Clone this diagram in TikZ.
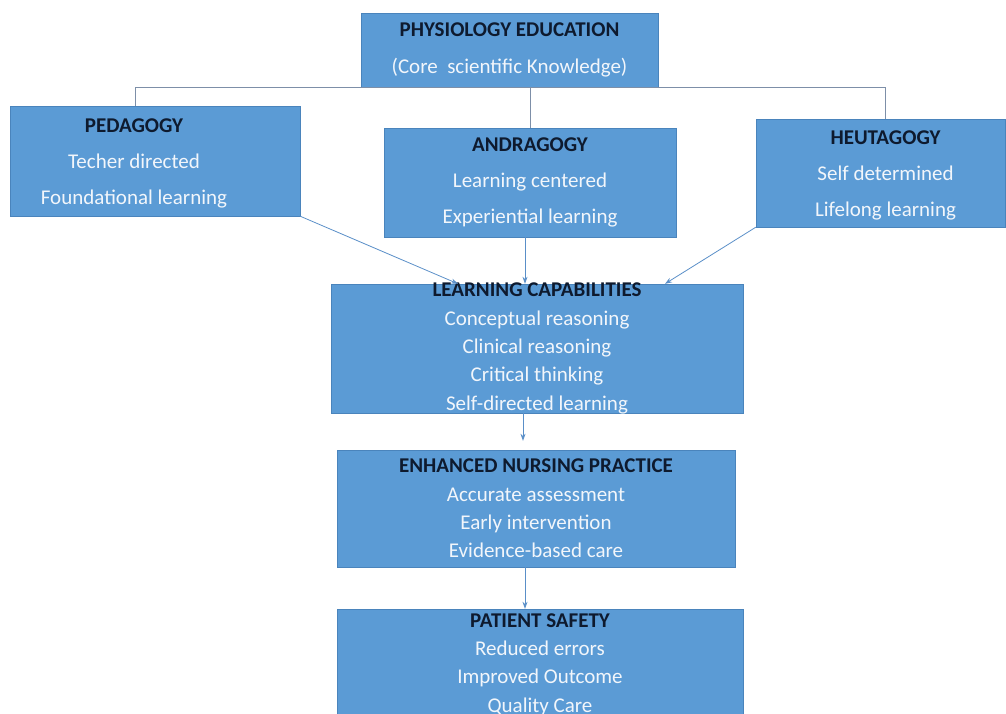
\documentclass[tikz,border=0pt]{standalone}
\usepackage{fontspec}
\setmainfont{Carlito}
\usetikzlibrary{arrows.meta}
\definecolor{boxblue}{HTML}{5B9BD5}
\definecolor{boxedge}{HTML}{4A84BC}
\definecolor{headtxt}{HTML}{0E1A2E}
\definecolor{bodytxt}{HTML}{F2F6FB}
\definecolor{treeline}{HTML}{7D8FA8}
\definecolor{arrowblue}{HTML}{5A8FC8}
\newcommand{\hd}[1]{{\bfseries\color{headtxt}#1}}
% text block moved sideways inside its box
\newcommand{\shifted}[2]{\hspace*{#1}\begin{tabular}{@{}c@{}}#2\end{tabular}}
\tikzset{
  blk/.style={draw=boxedge, fill=boxblue, inner sep=0pt, align=center, text=bodytxt, font=\fontsize{21}{36}\selectfont},
  blklow/.style={blk, font=\fontsize{21}{28.4}\selectfont},
  flow/.style={draw=arrowblue, line width=0.8pt, -{Stealth[length=7pt,width=5pt]}},
  tree/.style={draw=treeline, line width=0.8pt}
}
\begin{document}
\begin{tikzpicture}[x=1pt,y=-1pt]
\useasboundingbox (0,0) rectangle (1006,713);
\clip (0,0) rectangle (1006,713);

\node[blk, minimum width=297pt, minimum height=74pt, font=\fontsize{21}{37}\selectfont] (phys) at (509.5,50) {\hd{PHYSIOLOGY EDUCATION}\\(Core\ \ scientific Knowledge)};
\node[blk, minimum width=290pt, minimum height=110pt] (peda) at (155,161) {\shifted{-42pt}{\hd{PEDAGOGY}\\Techer directed\\Foundational learning}};
\node[blk, minimum width=292pt, minimum height=109pt] (andra) at (530,182.5) {\hd{ANDRAGOGY}\\Learning centered\\Experiential learning};
\node[blk, minimum width=249pt, minimum height=102pt] (heuta) at (880.5,173) {\shifted{10pt}{\hd{HEUTAGOGY}\\Self determined\\Lifelong learning}};
\node[blklow] (learn) at (537,348.5) {\parbox[c][129pt][c]{412pt}{\centering \hd{LEARNING CAPABILITIES}\\Conceptual reasoning\\Clinical reasoning\\Critical thinking\\Self-directed learning}};
\node[blklow, minimum width=398pt, minimum height=117pt] (nurse) at (536,508.5) {\hd{ENHANCED NURSING PRACTICE}\\Accurate assessment\\Early intervention\\Evidence-based care};
\node[blklow, minimum width=406pt, minimum height=111pt] (safety) at (540,664.5) {\hd{PATIENT SAFETY}\\Reduced errors\\Improved Outcome\\Quality Care};

% tree under the top box
\path[tree] ([xshift=-20pt]peda.north) |- ([xshift=5pt]heuta.north |- phys.south) -- ([xshift=5pt]heuta.north);
\path[tree] (phys.south -| andra.north) -- (andra.north);

% arrows down
\path[flow] (peda.south east) -- ([xshift=-79pt]learn.north);
\path[flow] ([xshift=-5pt]andra.south) -- ([xshift=-12pt]learn.north);
\path[flow] (heuta.south west) -- ([xshift=128pt]learn.north);
\path[flow] ([xshift=-14pt]learn.south) -- ([xshift=-13pt,yshift=9pt]nurse.north);
\path[flow] ([xshift=-11pt]nurse.south) -- ([xshift=-15pt]safety.north);
\end{tikzpicture}
\end{document}
